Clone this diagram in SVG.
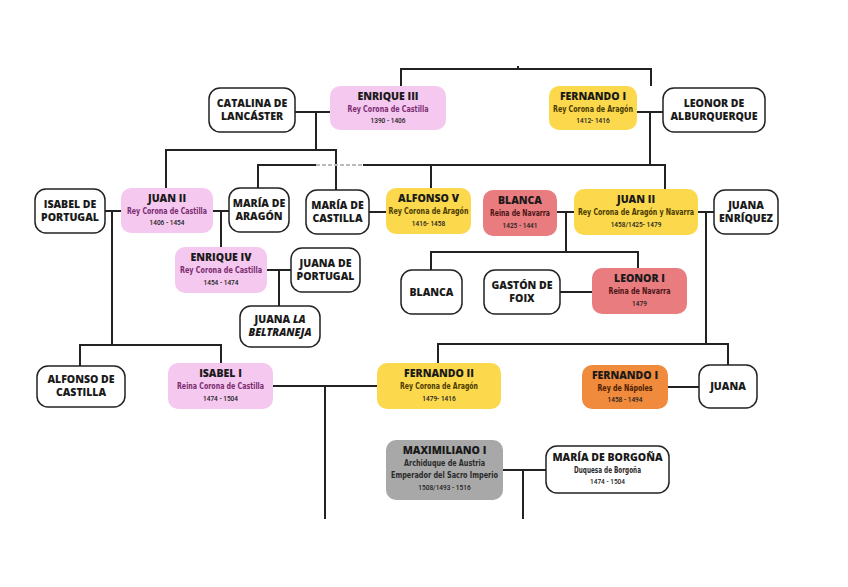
<svg xmlns="http://www.w3.org/2000/svg" width="848" height="587" viewBox="0 0 848 587">
<style>
.w{fill:#fff;stroke:#222;stroke-width:1.5}
.pk{fill:#f5c8ef}
.yl{fill:#fbd84c}
.rd{fill:#e97c7e}
.or{fill:#f08a3c}
.gy{fill:#a8a8a8}
.t{font-family:"Open Sans","DejaVu Sans",sans-serif;font-weight:800;font-size:10.5px;fill:#1a1a1a;text-anchor:middle}
.s{font-family:"DejaVu Sans Condensed","Roboto",sans-serif;font-weight:bold;font-size:8.5px;text-anchor:middle}
.y{font-family:"Roboto","DejaVu Sans",sans-serif;font-weight:500;font-size:6.5px;fill:#222;text-anchor:middle}
.ps{fill:#7a2c6f}
.ys{fill:#4a3a00}
.rs{fill:#4a1515}
.os{fill:#4a2000}
.gs{fill:#2a2a2a}
.c{fill:none;stroke:#222;stroke-width:2}
</style>
<rect width="848" height="587" fill="#fff"/>
<g id="connectors">
<path class="c" d="M401 86V69H651V86M518 66V69"/>
<path class="c" d="M295 112H330M316 112V150M166 188V150H336V190"/>
<path class="c" d="M637 112H663M650 112V165M258 188V165H316M363 165H665V190M431 165V188"/>
<path d="M316 165H363" fill="none" stroke="#bbb" stroke-width="2" stroke-dasharray="4 2"/>
<path class="c" d="M105 211H121M112 211V345M80 366V345H221V363"/>
<path class="c" d="M213 211H229M221 211V247"/>
<path class="c" d="M369 212H386"/>
<path class="c" d="M557 212H574M566 212V252M431 270V252H638V268"/>
<path class="c" d="M698 212H714M706 212V344M438 363V344H728V365"/>
<path class="c" d="M267 270H291M279 270V306"/>
<path class="c" d="M560 292H592"/>
<path class="c" d="M273 386H377M325 386V519"/>
<path class="c" d="M668 387H699"/>
<path class="c" d="M503 470H546M523 470V519"/>
</g>
<g id="catalina"><rect class="w" x="209" y="88" width="86" height="44" rx="11"/><text class="t" x="252" y="107">CATALINA DE</text><text class="t" x="252" y="120">LANCÁSTER</text></g>
<g id="enrique3"><rect class="pk" x="330" y="86" width="116" height="44" rx="10"/><text class="t" x="388" y="100">ENRIQUE III</text><text class="s ps" x="388" y="112" textLength="81" lengthAdjust="spacingAndGlyphs">Rey Corona de Castilla</text><text class="y" x="388" y="123">1390 - 1406</text></g>
<g id="fernando1"><rect class="yl" x="549" y="86" width="88" height="44" rx="10"/><text class="t" x="593" y="100">FERNANDO I</text><text class="s ys" x="593" y="112" textLength="80" lengthAdjust="spacingAndGlyphs">Rey Corona de Aragón</text><text class="y" x="593" y="123">1412- 1416</text></g>
<g id="leonor"><rect class="w" x="663" y="88" width="102" height="44" rx="11"/><text class="t" x="714" y="107">LEONOR DE</text><text class="t" x="714" y="120">ALBURQUERQUE</text></g>
<g id="isabelportugal"><rect class="w" x="35" y="189" width="70" height="44" rx="11"/><text class="t" x="70" y="208">ISABEL DE</text><text class="t" x="70" y="221">PORTUGAL</text></g>
<g id="juan2castilla"><rect class="pk" x="121" y="188" width="92" height="45" rx="10"/><text class="t" x="167" y="202">JUAN II</text><text class="s ps" x="167" y="214" textLength="80" lengthAdjust="spacingAndGlyphs">Rey Corona de Castilla</text><text class="y" x="167" y="225">1406 - 1454</text></g>
<g id="mariaaragon"><rect class="w" x="229" y="188" width="60" height="44" rx="11"/><text class="t" x="259" y="207">MARÍA DE</text><text class="t" x="259" y="220">ARAGÓN</text></g>
<g id="mariacastilla"><rect class="w" x="306" y="190" width="63" height="44" rx="11"/><text class="t" x="337.5" y="209">MARÍA DE</text><text class="t" x="337.5" y="222">CASTILLA</text></g>
<g id="alfonso5"><rect class="yl" x="386" y="188" width="85" height="46" rx="10"/><text class="t" x="428.5" y="202">ALFONSO V</text><text class="s ys" x="428.5" y="214" textLength="80" lengthAdjust="spacingAndGlyphs">Rey Corona de Aragón</text><text class="y" x="428.5" y="226">1416- 1458</text></g>
<g id="blanca1"><rect class="rd" x="483" y="190" width="74" height="46" rx="10"/><text class="t" x="520" y="204">BLANCA</text><text class="s rs" x="520" y="216" textLength="60" lengthAdjust="spacingAndGlyphs">Reina de Navarra</text><text class="y" x="520" y="228">1425 - 1441</text></g>
<g id="juan2aragon"><rect class="yl" x="574" y="189" width="124" height="46" rx="10"/><text class="t" x="636" y="203">JUAN II</text><text class="s ys" x="636" y="215" textLength="116" lengthAdjust="spacingAndGlyphs">Rey Corona de Aragón y Navarra</text><text class="y" x="636" y="227">1458/1425- 1479</text></g>
<g id="juanaenriquez"><rect class="w" x="714" y="190" width="64" height="44" rx="11"/><text class="t" x="746" y="209">JUANA</text><text class="t" x="746" y="222">ENRÍQUEZ</text></g>
<g id="enrique4"><rect class="pk" x="175" y="247" width="92" height="46" rx="10"/><text class="t" x="221" y="261">ENRIQUE IV</text><text class="s ps" x="221" y="273" textLength="82" lengthAdjust="spacingAndGlyphs">Rey Corona de Castilla</text><text class="y" x="221" y="285">1454 - 1474</text></g>
<g id="juanaportugal"><rect class="w" x="291" y="248" width="69" height="44" rx="11"/><text class="t" x="325.5" y="267">JUANA DE</text><text class="t" x="325.5" y="280">PORTUGAL</text></g>
<g id="beltraneja"><rect class="w" x="240" y="306" width="80" height="41" rx="11"/><text class="t" x="280" y="323">JUANA <tspan font-style="italic">LA</tspan></text><text class="t" x="280" y="336" font-style="italic">BELTRANEJA</text></g>
<g id="blanca2"><rect class="w" x="401" y="270" width="61" height="44" rx="11"/><text class="t" x="431.5" y="296">BLANCA</text></g>
<g id="gaston"><rect class="w" x="484" y="270" width="76" height="44" rx="11"/><text class="t" x="522" y="289">GASTÓN DE</text><text class="t" x="522" y="302">FOIX</text></g>
<g id="leonor1"><rect class="rd" x="592" y="268" width="95" height="46" rx="10"/><text class="t" x="639.5" y="282">LEONOR I</text><text class="s rs" x="639.5" y="294" textLength="62" lengthAdjust="spacingAndGlyphs">Reina de Navarra</text><text class="y" x="639.5" y="306">1479</text></g>
<g id="alfonsocastilla"><rect class="w" x="37" y="366" width="88" height="41" rx="11"/><text class="t" x="81" y="383">ALFONSO DE</text><text class="t" x="81" y="396">CASTILLA</text></g>
<g id="isabel1"><rect class="pk" x="168" y="363" width="105" height="46" rx="10"/><text class="t" x="220.5" y="377">ISABEL I</text><text class="s ps" x="220.5" y="389" textLength="87" lengthAdjust="spacingAndGlyphs">Reina Corona de Castilla</text><text class="y" x="220.5" y="401">1474 - 1504</text></g>
<g id="fernando2"><rect class="yl" x="377" y="363" width="124" height="46" rx="10"/><text class="t" x="439" y="377">FERNANDO II</text><text class="s ys" x="439" y="389" textLength="78" lengthAdjust="spacingAndGlyphs">Rey Corona de Aragón</text><text class="y" x="439" y="401">1479- 1416</text></g>
<g id="fernandonapoles"><rect class="or" x="582" y="365" width="86" height="44" rx="10"/><text class="t" x="625" y="379">FERNANDO I</text><text class="s os" x="625" y="391" textLength="55" lengthAdjust="spacingAndGlyphs">Rey de Nápoles</text><text class="y" x="625" y="402">1458 - 1494</text></g>
<g id="juana"><rect class="w" x="699" y="365" width="58" height="43" rx="11"/><text class="t" x="728" y="390">JUANA</text></g>
<g id="maximiliano"><rect class="gy" x="386" y="440" width="117" height="60" rx="10"/><text class="t" x="444.5" y="454">MAXIMILIANO I</text><text class="s gs" x="444.5" y="466" textLength="81" lengthAdjust="spacingAndGlyphs">Archiduque de Austria</text><text class="s gs" x="444.5" y="478" textLength="107" lengthAdjust="spacingAndGlyphs">Emperador del Sacro Imperio</text><text class="y" x="444.5" y="490">1508/1493 - 1516</text></g>
<g id="mariaborgona"><rect class="w" x="546" y="446" width="123" height="47" rx="11"/><text class="t" x="607.5" y="461">MARÍA DE BORGOÑA</text><text class="s gs" x="607.5" y="473" textLength="67" lengthAdjust="spacingAndGlyphs">Duquesa de Borgoña</text><text class="y" x="607.5" y="484">1474 - 1504</text></g>
</svg>
